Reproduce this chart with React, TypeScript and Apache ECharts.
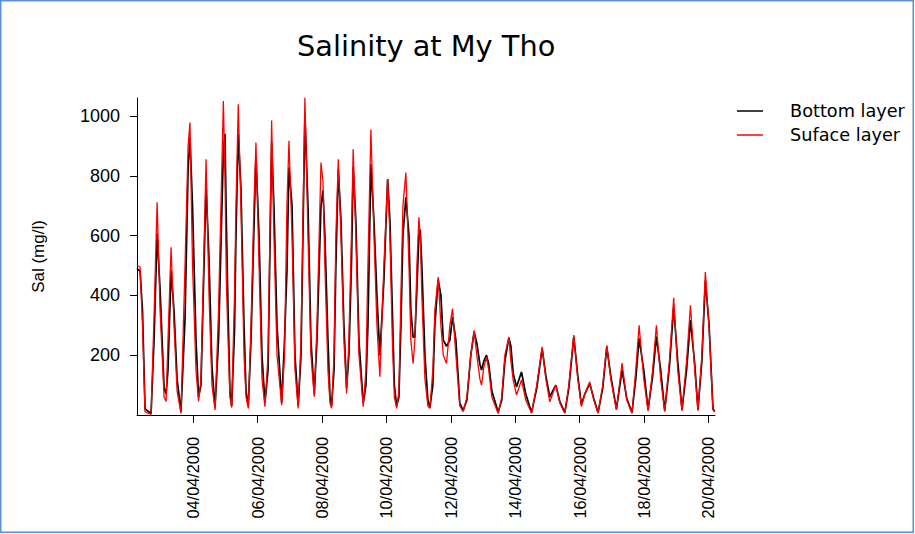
import React, { useEffect, useRef } from "react";
import * as echarts from "echarts";

// hours counted from 02/04/2000 00:00
const hours = [
  6, 8.3, 10.1, 12, 16.5, 18.7, 21, 23.2, 26.2, 27.7,
  29.1, 31.4, 33.6, 35.9, 38.8, 41.8, 44.1, 45.5, 47.4, 50,
  51.9, 53.7, 57.5, 59.7, 61.9, 64.2, 66.8, 70.4, 71.6, 72.6,
  73.9, 75.3, 76.6, 78.7, 79.8, 81.5, 83.5, 85.8, 87.3, 89,
  91, 93.2, 94.7, 97, 99.2, 101.4, 103.7, 106.4, 108.1, 110.4,
  113.9, 116, 117.8, 119.3, 121.6, 123.8, 126.2, 128.3, 131.2, 133.5,
  135.7, 138.2, 140.2, 143.2, 144.7, 146.1, 148.4, 149.9, 151.1, 152.9,
  154.3, 156.1, 158.1, 160.3, 162.3, 164, 165.9, 167.2, 169.2, 171.5,
  174.7, 176.7, 178.2, 180.4, 182.7, 184.9, 187.1, 190.1, 192.9, 194.6,
  196.4, 197.9, 199.6, 201.3, 202.8, 204.3, 206.5, 208.8, 210.2, 211.9,
  213.2, 214.7, 216.2, 217.2, 218.4, 220.7, 222.9, 224.4, 226.6, 228.1,
  230.6, 232.6, 234.4, 236.8, 239.3, 241.3, 243.8, 246.7, 249.2, 252,
  254.9, 257.4, 259.4, 261.7, 262.9, 264.6, 266.6, 268.3, 270.6, 275.3,
  278, 280.3, 283.3, 284.8, 286.5, 289, 292.7, 295.9, 300.2, 304.1,
  308.1, 310.9, 313.8, 318.3, 321.3, 325, 328, 331.7, 334.7, 337.4,
  339.9, 343.6, 346.6, 349.8, 353.3, 356.3, 359.3, 363.5, 367.7, 371.2,
  375.1, 377.9, 380.4, 383.9, 387.1, 390.5, 393.3, 396.5, 399.5, 403,
  406.2, 409.2, 412.4, 415.8, 418.7, 421.9, 424.3, 427.2, 429.8, 432.6,
  435.5, 436.8,
];

const bottomLayer = [
  490, 480, 350, 20, 5, 250, 607, 420, 90, 70,
  150, 483, 350, 120, 10, 320, 820, 928, 700, 250,
  60, 100, 767, 520, 160, 25, 250, 883, 940, 650,
  350, 80, 30, 280, 600, 939, 760, 300, 80, 30,
  250, 620, 867, 600, 200, 40, 150, 911, 700, 300,
  40, 250, 480, 828, 700, 200, 30, 200, 1006, 700,
  250, 70, 250, 700, 750, 600, 250, 60, 30, 150,
  500, 822, 650, 300, 90, 200, 500, 828, 650, 250,
  40, 100, 300, 839, 650, 400, 200, 450, 789, 650,
  350, 100, 30, 60, 300, 600, 728, 600, 350, 260,
  260, 420, 600, 620, 500, 200, 50, 25, 100, 300,
  453, 400, 250, 230, 250, 328, 250, 40, 15, 50,
  200, 278, 240, 170, 150, 180, 200, 170, 80, 10,
  50, 180, 258, 230, 140, 94, 144, 70, 8, 90,
  222, 130, 61, 100, 45, 8, 90, 261, 130, 35,
  70, 105, 55, 8, 90, 228, 130, 20, 150, 55,
  8, 120, 256, 150, 18, 130, 262, 150, 15, 160,
  361, 180, 18, 150, 317, 170, 18, 180, 450, 300,
  20, 12,
];

const sufaceLayer = [
  500, 495, 300, 10, 2, 330, 711, 350, 60, 45,
  250, 561, 300, 80, 5, 500, 900, 978, 500, 150,
  45, 120, 855, 400, 100, 17, 350, 1050, 800, 450,
  250, 60, 25, 400, 700, 1039, 700, 200, 60, 22,
  300, 700, 911, 500, 120, 28, 200, 985, 600, 200,
  33, 200, 700, 917, 600, 150, 22, 250, 1061, 600,
  200, 61, 300, 844, 780, 500, 150, 40, 22, 200,
  600, 855, 600, 250, 72, 250, 600, 889, 600, 200,
  28, 150, 500, 955, 600, 300, 128, 500, 789, 600,
  250, 60, 22, 80, 400, 700, 811, 500, 250, 172,
  250, 500, 661, 600, 400, 120, 30, 22, 150, 350,
  461, 300, 200, 172, 300, 356, 200, 30, 11, 60,
  200, 283, 200, 120, 100, 160, 194, 150, 60, 5,
  60, 200, 261, 180, 117, 67, 117, 50, 6, 100,
  228, 120, 44, 100, 40, 6, 100, 267, 120, 28,
  70, 111, 50, 6, 100, 233, 120, 17, 174, 50,
  6, 150, 300, 120, 14, 150, 300, 120, 11, 180,
  392, 150, 14, 180, 367, 150, 14, 200, 478, 290,
  17, 10,
];

const xTickHours = [48, 96, 144, 192, 240, 288, 336, 384, 432];
const yTickValues = [200, 400, 600, 800, 1000];
const seriesNames = ["Bottom layer", "Suface layer"];
const seriesColors = ["#000000", "#ff0000"];
const titleText = "Salinity at My Tho";
const yAxisName = "Sal (mg/l)";

function hourLabel(h: number): string {
  const day = 2 + Math.round(h / 24);
  return String(day).padStart(2, "0") + "/04/2000";
}

export default function App() {
  const ref = useRef<HTMLDivElement>(null);

  useEffect(() => {
    if (!ref.current) return;
    const chart = echarts.init(ref.current, undefined, { renderer: "svg" });
    const toPairs = (vals: number[]) => hours.map((h, i) => [h, vals[i]]);
    chart.setOption({
      animation: false,
      backgroundColor: "#ffffff",
      title: {
        text: titleText,
        left: 297,
        top: 31,
        padding: 0,
        textStyle: {
          fontFamily: "DejaVu Sans",
          fontSize: 28.8,
          fontWeight: "normal",
          color: "#000",
        },
      },
      legend: {
        orient: "vertical",
        left: 737,
        top: 102,
        padding: 0,
        itemGap: 6,
        itemWidth: 26,
        itemHeight: 1.5,
        icon: "rect",
        data: seriesNames,
        textStyle: {
          fontFamily: "DejaVu Sans",
          fontSize: 17.7,
          lineHeight: 18,
          color: "#000",
          padding: [0, 0, 0, 22],
        },
      },
      graphic: [
        {
          type: "rect",
          shape: { x: 0.75, y: 0.75, width: 912.5, height: 531.5 },
          style: { fill: "none", stroke: "#5b8fd6", lineWidth: 1.5 },
          silent: true,
        },
      ],
      grid: { left: 137, right: 200, top: 98, bottom: 119 },
      xAxis: {
        type: "value",
        min: 6,
        max: 437,
        axisLine: { onZero: false, lineStyle: { color: "#000", width: 1 } },
        axisTick: { customValues: xTickHours, length: 8, lineStyle: { color: "#000" } },
        axisLabel: {
          customValues: xTickHours,
          rotate: 90,
          margin: 22,
          color: "#000",
          fontFamily: "Liberation Sans",
          fontSize: 16.3,
          formatter: (v: number) => hourLabel(v),
        },
        splitLine: { show: false },
      },
      yAxis: {
        type: "value",
        min: 0,
        max: 1060,
        name: yAxisName,
        nameLocation: "middle",
        nameGap: 90,
        nameTextStyle: { fontFamily: "Liberation Sans", fontSize: 17, color: "#000" },
        axisLine: { show: true, onZero: false, lineStyle: { color: "#000", width: 1 } },
        axisTick: { show: true, customValues: yTickValues, length: 7, lineStyle: { color: "#000" } },
        axisLabel: {
          customValues: yTickValues,
          margin: 17,
          color: "#000",
          fontFamily: "Liberation Sans",
          fontSize: 18,
          formatter: (v: number) => String(v),
        },
        splitLine: { show: false },
      },
      series: [
        {
          name: seriesNames[0],
          type: "line",
          data: toPairs(bottomLayer),
          showSymbol: false,
          symbol: "none",
          lineStyle: { color: seriesColors[0], width: 1.7 },
          itemStyle: { color: seriesColors[0] },
        },
        {
          name: seriesNames[1],
          type: "line",
          data: toPairs(sufaceLayer),
          showSymbol: false,
          symbol: "none",
          lineStyle: { color: seriesColors[1], width: 1.3 },
          itemStyle: { color: seriesColors[1] },
        },
      ],
    });
    return () => chart.dispose();
  }, []);

  return (
    <div
      ref={ref}
      style={{ position: "absolute", left: 0, top: 0, width: 915, height: 534 }}
    />
  );
}
